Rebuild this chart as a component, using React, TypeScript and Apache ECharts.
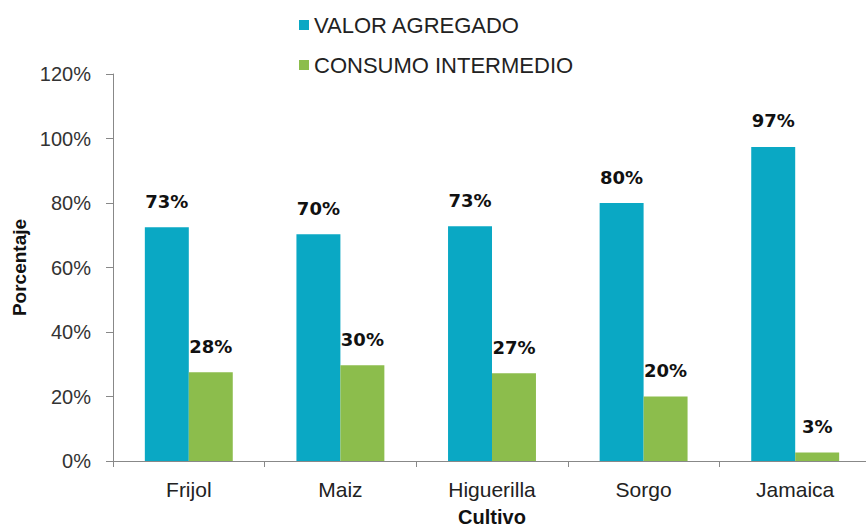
import React, { useEffect, useRef } from "react";
import * as echarts from "echarts";

const categories = ["Frijol", "Maiz", "Higuerilla", "Sorgo", "Jamaica"];
const valorAgregado = [72.5, 70.3, 72.8, 80.0, 97.4];
const consumoIntermedio = [27.5, 29.7, 27.2, 20.0, 2.6];
const seriesNames = ["VALOR AGREGADO", "CONSUMO INTERMEDIO"];
const yTicks = [0, 20, 40, 60, 80, 100, 120];

export default function App() {
  const ref = useRef<HTMLDivElement>(null);
  useEffect(() => {
    if (!ref.current) return;
    const chart = echarts.init(ref.current, undefined, { renderer: "svg" });
    const font = "'Liberation Sans', Arial, sans-serif";
    const labelStyle = {
      show: true,
      position: "top" as const,
      distance: 17,
      fontFamily: "'DejaVu Sans', sans-serif",
      fontWeight: "bold" as const,
      fontSize: 18,
      color: "#111",
      formatter: (p: any) => Math.round(p.value) + "%",
    };
    chart.setOption({
      animation: false,
      backgroundColor: "#fff",
      legend: {
        orient: "vertical",
        left: 294,
        top: 9,
        itemWidth: 10,
        itemHeight: 10,
        itemGap: 18,
        icon: "rect",
        textStyle: { fontFamily: font, fontSize: 22, color: "#222" },
        data: seriesNames,
      },
      grid: {
        left: 113,
        right: -5,
        top: 74,
        bottom: 71,
        containLabel: false,
        outerBoundsMode: "none",
      },
      xAxis: {
        type: "category",
        data: categories,
        name: "Cultivo",
        nameLocation: "middle",
        nameGap: 45,
        nameTextStyle: {
          fontFamily: font,
          fontSize: 20,
          lineHeight: 22,
          fontWeight: "bold",
          color: "#111",
        },
        axisLine: { lineStyle: { color: "#888", width: 1 } },
        axisTick: { show: true, length: 6, lineStyle: { color: "#888" } },
        axisLabel: { fontFamily: font, fontSize: 21, color: "#222", margin: 18 },
      },
      yAxis: {
        type: "value",
        min: 0,
        max: 120,
        interval: 20,
        name: "Porcentaje",
        nameLocation: "middle",
        nameGap: 83,
        nameRotate: 90,
        nameTextStyle: { fontFamily: font, fontSize: 19, fontWeight: "bold", color: "#111" },
        axisLine: { show: true, lineStyle: { color: "#888", width: 1 } },
        axisTick: { show: true, length: 7, lineStyle: { color: "#888" } },
        splitLine: { show: false },
        axisLabel: {
          fontFamily: font,
          fontSize: 20,
          color: "#333",
          margin: 22,
          formatter: (v: number) => (yTicks.includes(v) ? v + "%" : ""),
        },
      },
      series: [
        {
          name: seriesNames[0],
          type: "bar",
          data: valorAgregado,
          itemStyle: { color: "#0aa8c4" },
          barGap: "0%",
          barCategoryGap: "42%",
          label: labelStyle,
        },
        {
          name: seriesNames[1],
          type: "bar",
          data: consumoIntermedio,
          itemStyle: { color: "#8cbd4c" },
          label: labelStyle,
        },
      ],
    });
    return () => chart.dispose();
  }, []);
  return <div ref={ref} style={{ width: 866, height: 532, position: "absolute", left: 0, top: 0 }} />;
}
